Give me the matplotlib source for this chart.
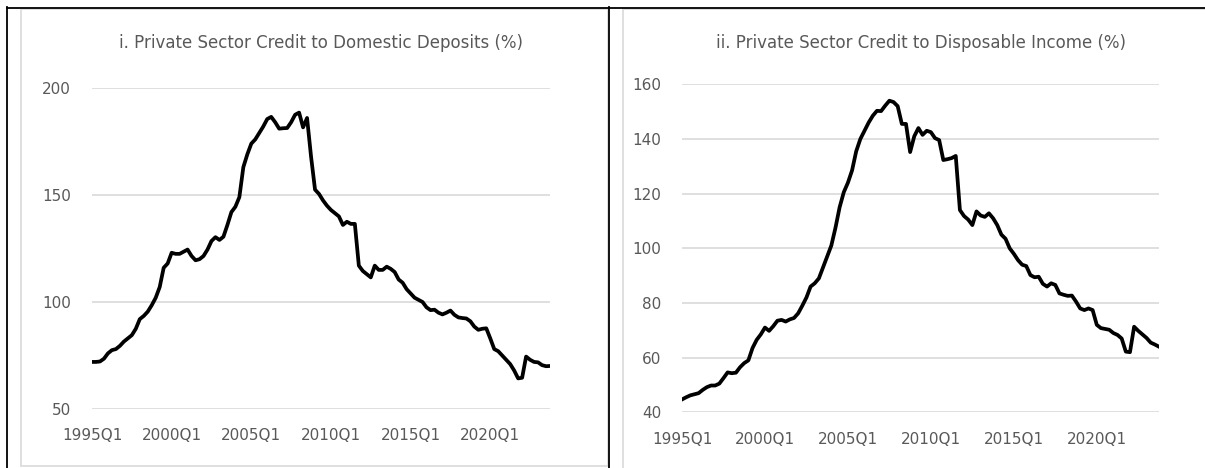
import matplotlib.pyplot as plt
from matplotlib.lines import Line2D
from matplotlib.patches import Rectangle

plt.rcParams['font.family'] = ['DejaVu Sans']

# quarterly data, 1995Q1 .. 2023Q4
credit_to_deposits = [
    72, 72, 72.2, 73.5, 76, 77.5, 78, 79.5, 81.5, 83,
    84.5, 87.5, 92, 93.5, 95.5, 98.5, 102, 107, 116, 118,
    123, 122.5, 122.5, 123.5, 124.5, 121.5, 119.5, 120, 121.5, 124.5,
    128.5, 130.3, 129, 130.5, 136, 142, 144.5, 149, 163, 169,
    174, 176, 179, 182, 185.5, 186.5, 184, 181, 181.2, 181.3,
    184, 187.5, 188.5, 181.6, 186, 168, 152.5, 150.5, 147.5, 145,
    143, 141.5, 140, 136, 137.5, 136.5, 136.5, 117, 114.5, 113,
    111.5, 117, 115, 115, 116.5, 115.5, 114, 110.5, 109, 106,
    104, 102, 101, 100, 97.5, 96.2, 96.4, 95, 94.2, 95,
    96, 94, 92.8, 92.5, 92.3, 91, 88.5, 87, 87.5, 87.7,
    83, 78, 77, 75, 73, 71, 68, 64.3, 64.6, 74.5,
    73, 72, 71.8, 70.5, 70, 70.1,
]
credit_to_income = [
    44.7, 45.5, 46.2, 46.6, 47, 48.2, 49.2, 49.8, 49.8, 50.5,
    52.5, 54.6, 54.3, 54.5, 56.5, 58, 59, 63.5, 66.5, 68.5,
    71, 69.8, 71.5, 73.5, 73.8, 73.2, 74, 74.5, 76.2, 79,
    82, 86, 87.2, 89, 93, 97, 101, 107.5, 115, 120.5,
    124, 128.5, 135.5, 140, 143, 146, 148.5, 150.3, 150.2, 152.2,
    154, 153.5, 152, 145.5, 145.5, 135.2, 141, 144, 141.5, 143,
    142.5, 140.3, 139.6, 132.3, 132.6, 133, 133.8, 114, 111.8, 110.5,
    108.5, 113.5, 112, 111.5, 112.8, 111, 108.5, 105, 103.5, 100,
    98, 95.7, 94, 93.5, 90.2, 89.4, 89.6, 87, 86, 87.2,
    86.6, 83.5, 83, 82.6, 82.7, 80.5, 78, 77.4, 78, 77.4,
    72, 70.8, 70.5, 70.2, 69, 68.3, 67, 62.2, 62, 71.3,
    69.8, 68.5, 67.2, 65.5, 64.8, 64,
]
quarters = list(range(len(credit_to_deposits)))
xtick_pos = [0, 20, 40, 60, 80, 100]
xtick_labels = ['1995Q1', '2000Q1', '2005Q1', '2010Q1', '2015Q1', '2020Q1']

titles = ['i. Private Sector Credit to Domestic Deposits (%)',
          'ii. Private Sector Credit to Disposable Income (%)']
yticks_left = [50, 100, 150, 200]
yticks_right = [40, 60, 80, 100, 120, 140, 160]

W, H = 1205, 468
fig = plt.figure(figsize=(W / 100, H / 100), dpi=100)


def px_axes(x0, x1, y_top, y_bot):
    return fig.add_axes([x0 / W, 1 - y_bot / H, (x1 - x0) / W, (y_bot - y_top) / H])


def fx(x):
    return x / W


def fy(y):
    return 1 - y / H


gray = '#595959'
panels = [
    (px_axes(92, 550, 88, 409), credit_to_deposits, yticks_left, titles[0], 29),
    (px_axes(682, 1159, 84.3, 412.3), credit_to_income, yticks_right, titles[1], 26),
]

for ax, vals, yt, title, tpad in panels:
    ax.plot(quarters, vals, color='black', lw=2.7, solid_joinstyle='round')
    ax.set_xlim(0, len(quarters) - 1)
    ax.set_ylim(yt[0], yt[-1])
    ax.set_yticks(yt)
    ax.set_xticks(xtick_pos)
    ax.set_xticklabels(xtick_labels)
    ax.yaxis.grid(True, color='#D9D9D9', lw=1.2)
    ax.set_axisbelow(True)
    for s in ax.spines.values():
        s.set_visible(False)
    ax.tick_params(length=0, labelsize=11, labelcolor=gray)
    ax.tick_params(axis='y', pad=15)
    ax.tick_params(axis='x', pad=14)
    ax.set_title(title, fontsize=12, color=gray, pad=tpad)

# chart frames
fig.add_artist(Rectangle((fx(21), fy(465.5)), fx(608) - fx(21), fy(9) - fy(465.5),
                         transform=fig.transFigure, fill=False, ec='#D9D9D9', lw=1.2))
fig.add_artist(Rectangle((fx(623), fy(480)), fx(1220) - fx(623), fy(9) - fy(480),
                         transform=fig.transFigure, fill=False, ec='#D9D9D9', lw=1.2))
# outer black lines
for xs, ys in [((7, 1205), (7.5, 7.5)), ((7.5, 7.5), (7, 468)), ((608.5, 608.5), (7, 468))]:
    fig.add_artist(Line2D([fx(v) for v in xs], [fy(v) for v in ys],
                          transform=fig.transFigure, color='black', lw=1.3))

fig.savefig('out.png', dpi=100)
